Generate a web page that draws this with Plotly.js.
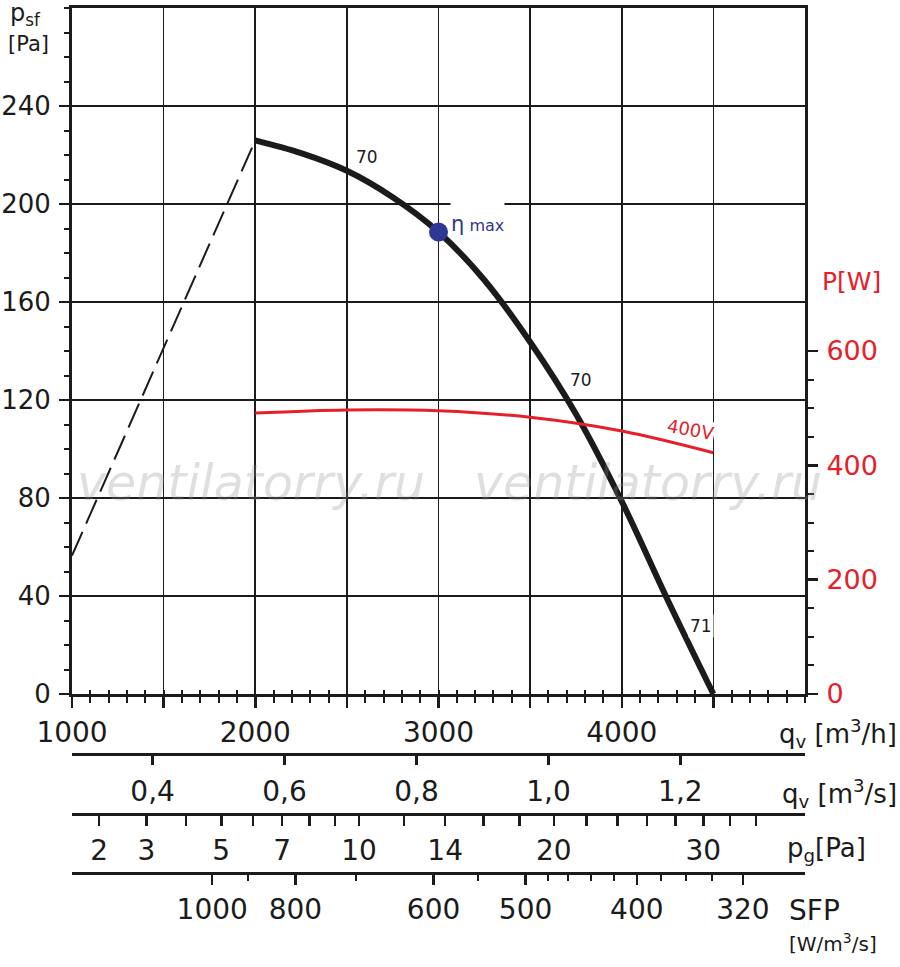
<!DOCTYPE html>
<html>
<head>
<meta charset="utf-8">
<script src="https://cdn.plot.ly/plotly-3.0.1.min.js"></script>
<style>
  html, body { margin: 0; padding: 0; background: #fff; }
  #chart { width: 900px; height: 967px; }
</style>
</head>
<body>
<div id="chart"></div>
<script>
// fan curve, static pressure vs flow
const flowMh = [2000, 2250, 2500, 2750, 3000, 3250, 3500, 3750, 4000, 4250, 4500];
const pressurePa = [226, 220.8, 213.6, 202.8, 188.6, 169, 143.7, 114.3, 78.6, 38.5, 0];

// unstable zone (dashed)
const dashFlow = [1000, 2000];
const dashPa = [56.5, 226];

// power input, 400V
const powerFlow = [2000, 2500, 3000, 3500, 4000, 4500];
const powerW = [491.5, 497, 495.5, 484, 460, 422];

// best efficiency point
const etaFlow = [3000];
const etaPa = [188.6];

// secondary scales under the chart
const flowM3s = [0.4, 0.6, 0.8, 1.0, 1.2];
const flowM3sText = ['0,4', '0,6', '0,8', '1,0', '1,2'];

const pgTicks = [2, 3, 4, 5, 6, 7, 8, 9, 10, 12, 14, 16, 18, 20, 22, 24, 26, 28, 30, 32, 34];
const pgLabels = [2, 3, 5, 7, 10, 14, 20, 30];
const pgFlowAt1Pa = 811.5; // m3/h where p_g = 1 Pa (p_g grows with q^2)

const sfpMajor = [1000, 800, 600, 500, 400, 320];
const sfpMajorFlow = [1765, 2219, 2973, 3475, 4082, 4661];
const sfpMinorFlow = [1962, 2552, 3213, 3596, 3705, 3831, 3956, 4213, 4350, 4492];

// layout helpers (pixels -> paper)
const L = 72, R = 805, T = 8, B = 880;
const px = x => (x - L) / (R - L);
const py = y => (B - y) / (B - T);

const FONT = 'DejaVu Sans, sans-serif';
const INK = '#1b1b1b';
const RED = '#e6202a';
const BLUE = '#2e3793';

const traces = [
  {
    x: dashFlow, y: dashPa, mode: 'lines', type: 'scatter',
    line: { color: INK, width: 2, dash: '26px,9px' }, hoverinfo: 'skip'
  },
  {
    x: flowMh, y: pressurePa, mode: 'lines', type: 'scatter',
    line: { color: INK, width: 6, shape: 'spline', smoothing: 1 }, hoverinfo: 'skip'
  },
  {
    x: powerFlow, y: powerW, yaxis: 'y2', mode: 'lines', type: 'scatter',
    line: { color: RED, width: 3, shape: 'spline', smoothing: 1 }, hoverinfo: 'skip'
  },
  {
    x: etaFlow, y: etaPa, mode: 'markers', type: 'scatter',
    marker: { color: BLUE, size: 19 }, hoverinfo: 'skip'
  }
];
// empty traces so the extra scales get drawn
['x2', 'x3', 'x4', 'x5'].forEach(ax => traces.push({
  x: [null], y: [null], xaxis: ax, yaxis: 'y', mode: 'lines', type: 'scatter', hoverinfo: 'skip'
}));

const baseAx = {
  range: [1000, 5000], showgrid: false, zeroline: false, fixedrange: true,
  automargin: false, tickfont: { family: FONT, size: 28, color: INK },
  linecolor: INK, tickcolor: INK
};

function note(x, y, text, size, color, anchor, extra) {
  return Object.assign({
    xref: 'paper', yref: 'paper', x: px(x), y: py(y), text: text, showarrow: false,
    xanchor: anchor || 'center', yanchor: 'middle',
    font: { family: FONT, size: size, color: color || INK }
  }, extra || {});
}

const markFont = { family: FONT, size: 49, color: 'rgba(140,140,140,0.28)', style: 'italic' };

const layout = {
  width: 900, height: 967,
  margin: { l: L, r: 900 - R, t: T, b: 967 - B },
  paper_bgcolor: '#fff', plot_bgcolor: '#fff',
  showlegend: false,
  font: { family: FONT, color: INK },
  xaxis: Object.assign({}, baseAx, {
    anchor: 'y',
    tickmode: 'array',
    tickvals: [1000, 1500, 2000, 2500, 3000, 3500, 4000, 4500],
    ticktext: ['1000', '', '2000', '', '3000', '', '4000', ''],
    showgrid: true, gridcolor: INK, gridwidth: 1.6,
    showline: true, linewidth: 3, mirror: true,
    ticks: 'outside', ticklen: 11, tickwidth: 2.5,
    ticklabelstandoff: 0,
    minor: { tick0: 1000, dtick: 100, ticks: 'outside', ticklen: 6, tickwidth: 2, tickcolor: INK, showgrid: false }
  }),
  xaxis5: Object.assign({}, baseAx, {
    overlaying: 'x', anchor: 'y',
    tickmode: 'linear', tick0: 1000, dtick: 100,
    ticks: 'inside', ticklen: 4, tickwidth: 2, showticklabels: false, showline: false
  }),
  xaxis2: Object.assign({}, baseAx, {
    overlaying: 'x', anchor: 'free', position: py(754), side: 'bottom',
    tickmode: 'array', tickvals: flowM3s.map(v => v * 3600), ticktext: flowM3sText,
    ticks: 'outside', ticklen: 9, tickwidth: 2.5,
    showline: true, linewidth: 3, ticklabelstandoff: 2
  }),
  xaxis3: Object.assign({}, baseAx, {
    overlaying: 'x', anchor: 'free', position: py(814), side: 'bottom',
    tickmode: 'array',
    tickvals: pgTicks.map(p => pgFlowAt1Pa * Math.sqrt(p)),
    ticktext: pgTicks.map(p => pgLabels.includes(p) ? String(p) : ''),
    ticks: 'outside', ticklen: 10, tickwidth: 2.5,
    showline: true, linewidth: 3, ticklabelstandoff: 0
  }),
  xaxis4: Object.assign({}, baseAx, {
    overlaying: 'x', anchor: 'free', position: py(873), side: 'bottom',
    tickmode: 'array', tickvals: sfpMajorFlow, ticktext: sfpMajor.map(String),
    ticks: 'outside', ticklen: 10, tickwidth: 2.5,
    showline: true, linewidth: 3, ticklabelstandoff: 0,
    minor: { tickmode: 'array', tickvals: sfpMinorFlow, ticks: 'outside', ticklen: 6, tickwidth: 2, tickcolor: INK, showgrid: false }
  }),
  yaxis: {
    domain: [py(694), 1], range: [0, 280], anchor: 'x',
    fixedrange: true, automargin: false, zeroline: false,
    tickmode: 'array', tickvals: [0, 40, 80, 120, 160, 200, 240],
    showgrid: true, gridcolor: INK, gridwidth: 1.6,
    showline: true, linewidth: 3, linecolor: INK,
    ticks: 'outside', ticklen: 10, tickwidth: 2.5, tickcolor: INK,
    tickfont: { family: FONT, size: 26, color: INK },
    ticklabelstandoff: 3,
    minor: { tick0: 0, dtick: 10, ticks: 'outside', ticklen: 5, tickwidth: 2, tickcolor: INK, showgrid: false }
  },
  yaxis2: {
    domain: [py(694), 1], range: [0, 1200], overlaying: 'y', side: 'right', anchor: 'x',
    fixedrange: true, automargin: false, zeroline: false, showgrid: false,
    tickmode: 'array', tickvals: [0, 200, 400, 600],
    showline: true, linewidth: 3, linecolor: INK,
    ticks: 'outside', ticklen: 10, tickwidth: 2.5, tickcolor: INK,
    tickfont: { family: FONT, size: 27, color: RED },
    ticklabelstandoff: 3,
    minor: { tickmode: 'array', tickvals: [50, 100, 150, 250, 300, 350, 450, 500, 550], ticks: 'outside', ticklen: 6, tickwidth: 2, tickcolor: INK, showgrid: false }
  },
  annotations: [
    // watermark
    note(251, 484, 'ventilatorry.ru', 49, null, 'center', { font: markFont }),
    note(648, 484, 'ventilatorry.ru', 49, null, 'center', { font: markFont }),
    // curve labels
    { x: 2610, y: 219, text: '70', showarrow: false, xanchor: 'center', yanchor: 'middle',
      font: { family: FONT, size: 17, color: INK } },
    { x: 3775, y: 128, text: '70', showarrow: false, xanchor: 'center', yanchor: 'middle',
      font: { family: FONT, size: 17, color: INK } },
    { x: 4502, y: 27.8, text: '71', showarrow: false, xanchor: 'right', yanchor: 'middle',
      bgcolor: '#fff', borderpad: 1, font: { family: FONT, size: 17, color: INK } },
    { x: 3062, y: 186.5, xanchor: 'left', yanchor: 'bottom', height: 34, valign: 'bottom',
      text: 'η<span style="font-size:16px"> max</span>', showarrow: false,
      bgcolor: '#fff', borderpad: 0, font: { family: FONT, size: 21, color: BLUE } },
    { x: 4375, y: 462, yref: 'y2', text: '400V', showarrow: false, textangle: 10,
      xanchor: 'center', yanchor: 'middle', bgcolor: '#fff', borderpad: 0,
      font: { family: FONT, size: 18, color: RED } },
    // axis titles
    note(8, 14, 'p<sub>sf</sub>', 24, INK, 'left'),
    note(6, 44, '[Pa]', 21, INK, 'left'),
    note(820, 281, 'P[W]', 25, RED, 'left'),
    note(899, 733, 'q<sub>v</sub> [m<sup>3</sup>/h]', 26, INK, 'right'),
    note(899, 793, 'q<sub>v</sub> [m<sup>3</sup>/s]', 26, INK, 'right'),
    note(785, 849, 'p<sub>g</sub>[Pa]', 26, INK, 'left'),
    note(787, 910, 'SFP', 28, INK, 'left'),
    note(787, 943, '[W/m<sup>3</sup>/s]', 20, INK, 'left')
  ]
};

Plotly.newPlot('chart', traces, layout, { staticPlot: true, displayModeBar: false });
</script>
</body>
</html>
